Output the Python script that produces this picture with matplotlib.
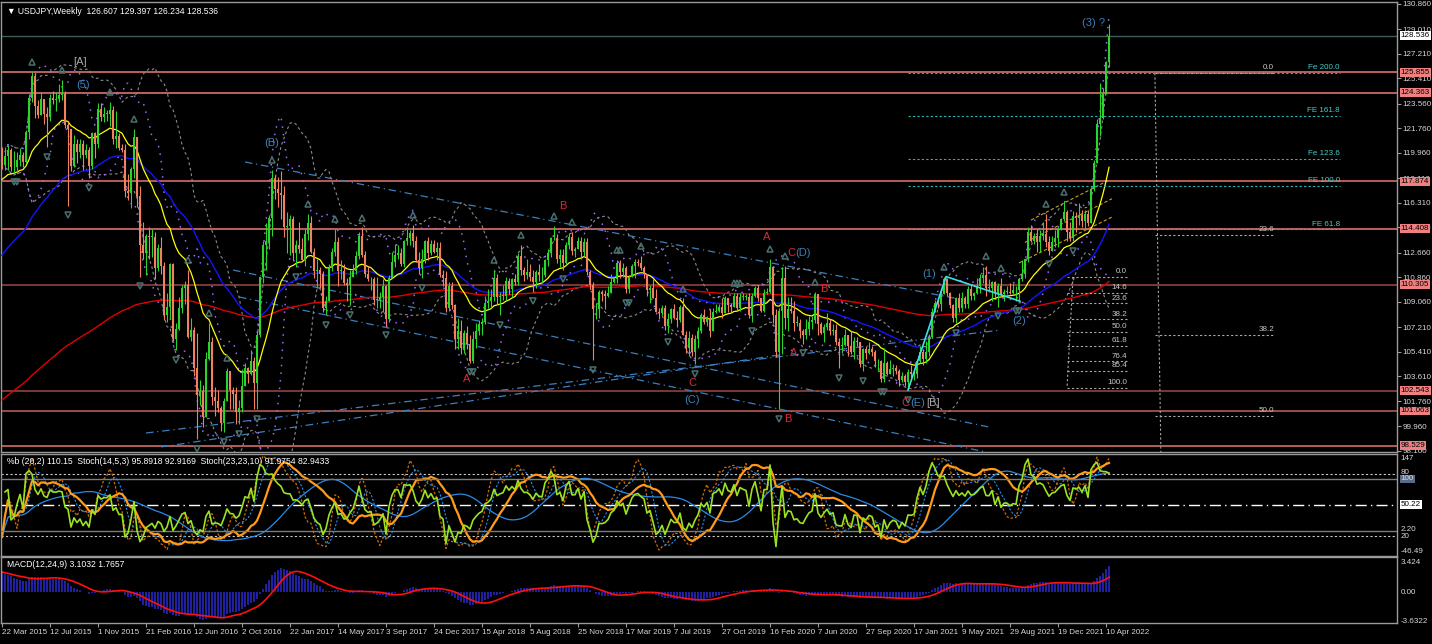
import numpy as np
import pandas as pd
import matplotlib
matplotlib.use("Agg")
import matplotlib.pyplot as plt
from matplotlib.transforms import offset_copy

plt.rcParams["font.family"] = ["Liberation Sans", "DejaVu Sans"]

# ---- weekly USDJPY candles, week of 22 Mar 2015 onwards ----
first_open = 120.1
last_open = 126.607

close_2015 = [119.1, 119.7, 120.2, 118.9, 118.9, 119.4, 119.8, 119.3, 121.5, 124.0,
              125.6, 123.4, 122.7, 123.9, 122.8, 122.6, 124.0, 123.8, 123.9, 124.2,
              124.3, 122.0, 121.7, 119.0, 120.6, 120.0, 120.6, 119.8, 120.2, 119.0,
              121.4, 120.6, 123.2, 122.6, 122.8, 122.8, 123.1, 121.0, 121.2, 120.3,
              120.2]
high_2015 = [120.4, 120.4, 120.5, 120.3, 120.1, 120.0, 120.3, 120.0, 121.6, 124.3,
             125.9, 125.8, 123.8, 124.4, 123.8, 123.3, 124.3, 124.5, 124.4, 125.0,
             125.3, 124.5, 122.2, 121.7, 121.3, 121.0, 121.0, 120.9, 120.6, 120.4,
             121.5, 121.5, 123.6, 123.6, 123.3, 123.1, 123.7, 123.4, 123.0, 121.4,
             120.6]
low_2015 = [118.8, 118.7, 118.7, 118.6, 118.5, 118.5, 119.0, 118.9, 119.2, 121.0,
            123.7, 122.5, 122.5, 122.7, 122.1, 120.4, 122.3, 123.5, 123.0, 123.7,
            123.8, 121.8, 116.1, 118.6, 118.9, 119.2, 119.6, 118.7, 119.6, 118.1,
            118.8, 119.6, 120.3, 122.3, 122.2, 122.3, 121.9, 120.6, 120.3, 120.2,
            120.0]

close_2016 = [117.2, 117.0, 118.8, 121.1, 116.8, 113.2, 112.6, 113.9, 113.8, 113.8,
              111.5, 113.0, 111.7, 108.1, 108.7, 111.8, 106.3, 107.1, 108.6, 110.1,
              110.3, 106.5, 107.0, 104.2, 102.2, 102.5, 100.6, 104.9, 106.1, 102.1,
              101.8, 101.3, 100.2, 101.8, 104.0, 102.6, 102.3, 101.0, 101.3, 102.9,
              104.2, 103.8, 104.7, 103.1, 106.6, 110.9, 113.2, 113.5, 115.2, 118.1,
              117.3, 117.0]
high_2016 = [120.6, 118.4, 118.9, 121.7, 121.0, 117.5, 114.9, 114.0, 114.5, 114.4,
             114.2, 113.3, 113.8, 112.0, 109.7, 111.9, 111.9, 107.5, 109.4, 110.3,
             110.6, 111.4, 107.9, 107.2, 106.8, 103.3, 103.0, 105.4, 107.5, 106.5,
             102.8, 102.6, 101.4, 102.0, 104.2, 104.0, 102.8, 102.8, 101.9, 104.1,
             104.6, 104.3, 105.5, 105.0, 106.9, 110.9, 113.5, 114.8, 115.4, 118.7,
             118.3, 118.2]
low_2016 = [116.7, 116.5, 115.9, 118.1, 116.0, 110.9, 112.2, 111.0, 112.2, 112.3,
            110.7, 111.3, 111.1, 107.7, 107.6, 107.8, 106.2, 105.5, 107.0, 108.2,
            108.9, 106.4, 106.2, 103.6, 99.0, 101.5, 99.9, 100.7, 104.8, 101.5,
            100.7, 101.0, 99.6, 99.5, 101.8, 101.2, 101.2, 100.1, 100.1, 101.0,
            103.2, 103.1, 103.7, 101.2, 101.2, 106.5, 110.4, 111.4, 112.9, 113.9,
            116.6, 116.0]

close_2017 = [116.9, 114.5, 114.6, 115.1, 112.6, 113.2, 112.9, 112.1, 114.0, 114.8,
              112.7, 111.3, 111.4, 111.1, 108.6, 109.1, 111.5, 112.7, 113.4, 111.3,
              111.3, 110.4, 110.3, 110.9, 111.3, 112.4, 113.9, 112.5, 111.1, 110.7,
              110.7, 109.2, 109.2, 109.4, 110.2, 107.8, 110.8, 112.0, 112.5, 112.6,
              111.8, 113.5, 113.7, 114.1, 113.5, 112.1, 111.5, 112.2, 113.5, 112.6,
              113.3, 112.7, 113.0]
high_2017 = [118.6, 117.5, 115.6, 115.4, 115.3, 113.6, 114.9, 113.7, 114.4, 115.5,
             115.3, 113.0, 112.2, 111.6, 111.3, 109.5, 111.8, 113.0, 114.4, 113.8,
             112.1, 111.8, 110.8, 111.4, 111.8, 112.8, 114.2, 114.5, 112.8, 111.7,
             110.9, 110.9, 110.9, 109.8, 110.7, 110.3, 111.0, 112.7, 113.3, 113.2,
             113.0, 113.6, 114.5, 114.3, 114.7, 113.9, 112.7, 112.9, 113.6, 113.8,
             113.6, 113.6, 113.4]
low_2017 = [115.1, 113.8, 112.6, 112.5, 112.1, 111.6, 112.6, 112.1, 111.7, 113.6,
            112.6, 110.8, 110.1, 110.1, 108.3, 108.1, 109.2, 111.3, 112.4, 110.2,
            110.7, 110.3, 109.1, 108.8, 110.9, 111.1, 112.2, 112.3, 110.9, 110.6,
            109.9, 108.8, 108.6, 108.6, 108.3, 107.3, 107.6, 110.8, 111.6, 112.2,
            111.7, 111.6, 113.2, 113.2, 113.1, 112.0, 111.1, 110.8, 111.9, 112.1,
            112.5, 112.6, 112.1]

close_2018 = [111.0, 110.8, 108.6, 110.2, 108.8, 106.3, 106.9, 105.7, 106.8, 106.0,
              104.7, 106.3, 106.9, 107.4, 107.6, 109.0, 109.1, 109.4, 110.8, 109.4,
              109.5, 109.5, 110.6, 110.0, 110.7, 110.5, 112.4, 111.4, 111.0, 111.2,
              110.9, 110.5, 111.2, 111.0, 111.0, 112.1, 112.6, 113.7, 113.7, 112.2,
              112.5, 111.9, 113.2, 113.8, 112.8, 112.9, 113.5, 112.7, 113.4, 111.2,
              110.3, 108.5]
high_2018 = [113.4, 111.4, 111.3, 110.5, 110.5, 108.9, 107.9, 107.7, 107.0, 107.3,
             106.6, 106.9, 107.5, 107.7, 107.9, 109.5, 110.0, 110.0, 111.4, 111.1,
             109.8, 110.3, 110.9, 110.8, 110.8, 111.1, 112.6, 113.2, 111.6, 112.2,
             111.8, 111.4, 111.4, 111.8, 111.6, 112.2, 112.9, 113.8, 114.6, 114.0,
             112.9, 112.9, 113.4, 114.1, 114.2, 113.1, 113.8, 113.8, 113.7, 113.7,
             111.4, 110.5]
low_2018 = [110.9, 110.2, 108.3, 108.4, 108.5, 105.6, 105.6, 105.2, 105.3, 105.6,
            104.6, 104.6, 105.7, 106.6, 106.6, 107.4, 108.6, 108.6, 109.1, 108.9,
            108.1, 109.2, 109.2, 109.6, 109.4, 110.3, 110.3, 111.0, 110.6, 110.7,
            110.6, 109.8, 110.1, 110.6, 110.4, 110.9, 111.7, 112.3, 113.6, 111.9,
            111.6, 111.4, 111.8, 112.9, 112.5, 112.3, 112.9, 112.2, 112.4, 111.0,
            110.0, 104.8]

close_2019 = [108.5, 109.8, 109.6, 109.5, 109.7, 110.5, 110.7, 111.9, 111.2, 111.5,
              110.0, 110.9, 111.7, 112.0, 111.9, 111.5, 111.1, 109.9, 110.1, 109.3,
              108.3, 108.2, 108.6, 107.3, 107.8, 108.5, 107.9, 107.7, 108.7, 106.6,
              105.7, 106.4, 105.4, 106.3, 106.9, 108.1, 107.6, 107.9, 106.9, 108.3,
              108.4, 108.7, 108.2, 109.3, 108.8, 108.7, 109.5, 108.6, 109.4, 109.4,
              109.4, 108.1]
high_2019 = [109.0, 109.9, 109.9, 109.9, 110.2, 111.1, 110.9, 112.1, 112.1, 111.9,
             111.7, 111.0, 111.8, 112.2, 112.2, 112.4, 111.7, 111.1, 110.3, 110.7,
             110.0, 108.6, 108.8, 108.8, 108.2, 108.6, 108.9, 108.4, 108.8, 109.3,
             106.9, 106.9, 106.7, 106.6, 107.2, 108.2, 108.5, 108.0, 108.5, 108.6,
             108.9, 108.9, 109.3, 109.5, 109.3, 109.0, 109.7, 109.7, 109.7, 109.7,
             109.6, 109.7]
low_2019 = [107.8, 107.9, 109.1, 108.5, 109.4, 109.8, 110.4, 110.4, 110.8, 110.9,
            109.7, 109.7, 111.0, 110.8, 111.7, 111.4, 110.8, 109.5, 109.0, 109.3,
            108.3, 107.8, 108.1, 107.0, 106.8, 107.5, 107.8, 107.2, 107.6, 106.6,
            105.3, 105.1, 105.1, 104.5, 105.7, 106.8, 107.4, 107.3, 106.5, 106.9,
            108.2, 108.3, 107.9, 108.2, 108.3, 108.3, 108.7, 108.4, 108.4, 109.2,
            109.2, 107.9]

close_2020 = [109.5, 110.1, 109.3, 108.4, 109.7, 109.8, 111.6, 108.1, 105.4, 108.4,
              110.8, 107.9, 108.5, 108.4, 107.5, 107.5, 106.9, 106.6, 107.1, 107.6,
              107.7, 109.6, 107.4, 106.8, 107.2, 107.5, 106.9, 107.0, 106.1, 105.8,
              105.9, 106.6, 105.8, 105.4, 106.2, 106.1, 104.5, 105.6, 105.3, 105.6,
              105.4, 104.7, 104.7, 103.4, 104.6, 103.8, 104.1, 104.2, 104.0, 103.3,
              103.6, 103.2]
high_2020 = [109.7, 110.2, 110.3, 109.3, 110.0, 110.1, 112.2, 111.7, 108.5, 108.6,
             111.6, 111.7, 109.4, 109.4, 109.1, 108.0, 107.8, 107.1, 107.8, 108.0,
             108.0, 109.8, 109.6, 107.6, 107.4, 108.2, 107.8, 107.4, 107.4, 106.4,
             106.5, 107.1, 106.6, 106.9, 106.5, 106.5, 106.0, 105.7, 105.8, 106.1,
             105.8, 105.5, 104.9, 104.8, 105.7, 104.7, 104.8, 104.5, 104.4, 104.1,
             103.9, 103.8]
low_2020 = [107.6, 109.4, 109.1, 108.3, 108.3, 109.6, 109.7, 107.5, 105.0, 101.2,
            105.2, 107.1, 106.9, 108.2, 106.9, 107.3, 106.4, 106.0, 106.3, 106.6,
            107.1, 107.5, 106.6, 106.7, 106.1, 107.0, 106.6, 106.6, 105.9, 104.2,
            105.3, 105.8, 105.1, 105.2, 104.9, 105.8, 104.3, 104.0, 104.9, 105.2,
            105.1, 104.3, 104.0, 103.2, 103.2, 103.7, 103.8, 103.6, 103.8, 102.9,
            103.2, 102.9]

close_2021 = [103.9, 103.8, 103.8, 104.7, 105.4, 104.9, 105.4, 106.5, 108.3, 109.0,
              108.9, 109.6, 110.7, 109.7, 108.8, 107.9, 109.3, 108.6, 109.3, 108.9,
              110.0, 109.5, 109.7, 110.2, 110.8, 111.0, 110.1, 110.1, 110.5, 109.7,
              110.2, 109.6, 109.8, 109.8, 109.7, 109.9, 109.9, 110.7, 111.1, 112.2,
              114.2, 113.5, 113.9, 113.4, 113.9, 114.0, 113.4, 112.8, 113.4, 113.7,
              114.4, 115.1]
high_2021 = [104.1, 104.4, 104.1, 104.9, 105.8, 105.6, 106.2, 106.7, 108.6, 109.2,
             109.4, 109.9, 110.9, 110.6, 109.8, 108.9, 109.4, 109.7, 109.8, 109.5,
             110.2, 110.3, 109.8, 110.8, 111.1, 111.6, 111.7, 110.7, 110.6, 110.6,
             110.4, 110.8, 110.0, 110.2, 110.4, 110.4, 110.2, 110.8, 112.1, 112.2,
             114.5, 114.7, 114.1, 114.4, 114.3, 114.9, 115.5, 113.9, 113.9, 114.3,
             114.5, 115.2]
low_2021 = [102.6, 103.5, 103.3, 103.5, 104.6, 104.4, 104.6, 105.1, 106.4, 108.3,
            108.6, 108.4, 109.6, 109.5, 108.6, 107.6, 107.5, 108.3, 108.3, 108.6,
            108.6, 109.2, 109.2, 109.6, 109.7, 110.4, 109.5, 109.8, 109.1, 109.4,
            108.7, 109.5, 109.1, 109.6, 109.6, 109.6, 109.1, 109.1, 110.6, 110.8,
            112.0, 113.4, 113.3, 112.7, 112.7, 113.6, 113.1, 112.5, 112.9, 113.1,
            113.1, 114.3]

close_2022 = [115.6, 114.2, 113.7, 115.3, 115.2, 115.4, 115.0, 115.5, 114.8, 117.3,
              119.2, 122.1, 122.5, 124.3, 126.6, 128.536]
high_2022 = [116.4, 115.8, 114.9, 115.7, 115.6, 116.3, 115.8, 115.8, 115.8, 117.4,
             119.4, 122.4, 125.1, 124.7, 126.7, 129.397]
low_2022 = [115.0, 113.5, 113.5, 113.5, 114.2, 114.7, 114.5, 114.4, 114.6, 114.8,
            117.2, 119.2, 121.2, 122.4, 124.3, 126.234]

# starting values of the averages as they appear at the left edge
yellow_seed, blue_seed, red_seed = 117.9, 112.2, 101.7
macd_fast_seed, macd_slow_seed = 119.6, 117.0

# horizontal support / resistance levels
levels = [125.855, 124.363, 117.874, 114.408, 110.305, 102.543, 101.063, 98.529]
level_colors = ["#f07b74", "#f07b74", "#e8756e", "#f07b74", "#9c4a45", "#9c4a45", "#c0625c", "#e8756e"]
current_price = 128.536

price_ticks = [130.860, 129.010, 127.210, 125.410, 123.560, 121.760, 119.960, 118.110, 116.310,
               114.510, 112.660, 110.860, 109.060, 107.210, 105.410, 103.610, 101.760, 99.960, 98.160]

# Fibonacci tools (labels and prices)
fib1_labels = ["0.0", "14.6", "23.6", "38.2", "50.0", "61.8", "76.4", "85.4", "100.0"]
fib1_prices = [110.87, 109.70, 108.94, 107.77, 106.84, 105.84, 104.70, 103.98, 102.75]
fib2_labels = ["0.0", "23.6", "38.2", "50.0"]
fib2_prices = [125.80, 113.95, 106.65, 100.70]
fe_labels = ["Fe 200.0", "FE 161.8", "Fe 123.6", "FE 100.0", "FE 61.8"]
fe_prices = [125.80, 122.65, 119.50, 117.55, 114.35]

# analyst trend lines: (week, price) -> (week, price)
trend_lines = [(81, 119.29, 319, 109.26), (77, 111.38, 329, 99.89), (79, 109.41, 328, 98.06),
               (48, 99.45, 333, 106.99), (53, 98.43, 259, 105.16)]
channel_lines = [(343, 115.04, 369, 117.97), (339, 111.90, 370, 115.26), (341, 113.4, 370, 116.6)]
wave_line_w = [302, 314.7, 339.3]
wave_line_p = [102.6, 110.9, 109.1]

# wave labels: text, week, price, colour
wave_labels = [("[A]", 26, 126.6, "#a8a8a8"), ("(5)", 27, 124.9, "#3f7fb8"), ("(B)", 90, 120.7, "#3f7fb8"),
               ("B", 187, 116.1, "#e0283c"), ("A", 155, 103.4, "#e0283c"), ("C", 230, 103.1, "#e0283c"),
               ("(C)", 230, 101.9, "#3f7fb8"), ("A", 255, 113.8, "#e0283c"), ("C", 263, 112.6, "#e0283c"),
               ("(D)", 267, 112.6, "#3f7fb8"), ("B", 274, 110.0, "#e0283c"), ("A", 264, 105.3, "#e0283c"),
               ("B", 262, 100.5, "#e0283c"), ("C", 301, 101.65, "#e0283c"), ("(E)", 305.3, 101.65, "#3f7fb8"),
               ("[B]", 310.5, 101.65, "#a8a8a8"), ("(1)", 309, 111.1, "#3f7fb8"), ("(2)", 339, 107.65, "#3f7fb8"),
               ("(3) ?", 364, 129.45, "#3f7fb8")]

# ---- assemble candles ----
closes = np.array(close_2015 + close_2016 + close_2017 + close_2018 + close_2019 + close_2020 + close_2021 + close_2022)
highs = np.array(high_2015 + high_2016 + high_2017 + high_2018 + high_2019 + high_2020 + high_2021 + high_2022)
lows = np.array(low_2015 + low_2016 + low_2017 + low_2018 + low_2019 + low_2020 + low_2021 + low_2022)
opens = np.concatenate([[first_open], closes[:-1]])
opens[-1] = last_open
highs = np.maximum(highs, np.maximum(opens, closes))
lows = np.minimum(lows, np.minimum(opens, closes))
n = len(closes)
idx = np.arange(n)
dates = pd.date_range("2015-03-22", periods=n, freq="7D")


def ema(values, period, seed):
    a = 2.0 / (period + 1)
    out, prev = [], seed
    for v in values:
        prev = prev + a * (v - prev)
        out.append(prev)
    return np.array(out)


def bands(values, period, dev):
    s = pd.Series(values)
    mid = s.rolling(period, min_periods=2).mean()
    sd = s.rolling(period, min_periods=2).std(ddof=0)
    return (mid + dev * sd).values, (mid - dev * sd).values


def stoch(h, l, c, k, d, slow):
    hh = pd.Series(h).rolling(k, min_periods=1).max()
    ll = pd.Series(l).rolling(k, min_periods=1).min()
    num = (pd.Series(c) - ll).rolling(slow, min_periods=1).sum()
    den = (hh - ll).rolling(slow, min_periods=1).sum()
    main = 100 * num / den
    return main.values, main.rolling(d, min_periods=1).mean().values


ma_yellow = ema(closes, 20, yellow_seed)
ma_blue = ema(closes, 50, blue_seed)
ma_red = ema(closes, 200, red_seed)
bb_up, bb_lo = bands(closes, 20, 2)
bb10_up, bb10_lo = bands(closes, 10, 2)
pct_b = (closes - bb_lo) / (bb_up - bb_lo) * 100
st14_m, st14_s = stoch(highs, lows, closes, 14, 5, 3)
st23_m, st23_s = stoch(highs, lows, closes, 23, 23, 10)
macd = ema(closes, 12, macd_fast_seed) - ema(closes, 24, macd_slow_seed)
macd_sig = pd.Series(macd).rolling(9, min_periods=1).mean().values

# ---- figure layout (pixel boxes) ----
W, H = 1432, 644
BG = "black"
FRAME = "#9a9a9a"
TXT = "#d8d8d8"
FS = 5.8


def box(x0, y0, x1, y1):
    return [x0 / W, 1 - y1 / H, (x1 - x0) / W, (y1 - y0) / H]


fig = plt.figure(figsize=(W / 100, H / 100), dpi=100, facecolor=BG)
ax = fig.add_axes(box(1, 2, 1397, 452))
ax2 = fig.add_axes(box(1, 454, 1397, 556), sharex=ax)
ax3 = fig.add_axes(box(1, 557, 1397, 623), sharex=ax)
for a in (ax, ax2, ax3):
    a.set_facecolor(BG)
    for sp in a.spines.values():
        sp.set_color(FRAME)
        sp.set_linewidth(1)
    a.tick_params(axis="x", bottom=False, labelbottom=False)

ax.set_xlim(-0.33, 465.0)
ax.set_ylim(98.06, 131.0)


def right_box(axis, y, text, fc, tc="black"):
    axis.text(1.0025, y, text, transform=axis.get_yaxis_transform(), ha="left", va="center",
              fontsize=FS, color=tc, zorder=20, clip_on=False,
              bbox=dict(boxstyle="square,pad=0.12", fc=fc, ec="none"))


# horizontal levels
ax.axhline(current_price, color="#3d5c5a", lw=1, zorder=1)
for lv, lc in zip(levels, level_colors):
    ax.axhline(lv, color=lc, lw=1.1, zorder=1)

# trend lines
for w0, p0, w1, p1 in trend_lines:
    ax.plot([w0, w1], [p0, p1], color="#3b7fbf", lw=0.9, ls=(0, (6, 3, 1, 3)), zorder=2)
for w0, p0, w1, p1 in channel_lines:
    ax.plot([w0, w1], [p0, p1], color="#c9a21a", lw=0.8, ls=(0, (3, 2)), zorder=2)

# bands and averages
ax.plot(idx, bb_up, color="#8a8a8a", lw=0.8, ls=(0, (2.5, 2.5)), zorder=2)
ax.plot(idx, bb_lo, color="#8a8a8a", lw=0.8, ls=(0, (2.5, 2.5)), zorder=2)
ax.plot(idx, bb10_up, color="#9a6cff", lw=1.1, ls=(0, (1, 4)), zorder=2)
ax.plot(idx, bb10_lo, color="#9a6cff", lw=1.1, ls=(0, (1, 4)), zorder=2)
ax.plot(idx, ma_red, color="#e00000", lw=1.0, zorder=3)
ax.plot(idx, ma_blue, color="#1414ff", lw=1.0, zorder=3)
ax.plot(idx, ma_yellow, color="#ffff00", lw=0.9, zorder=3)

# candles
up = closes >= opens
col = np.where(up, "#2ad62a", "#f2825f")
ax.vlines(idx, lows, highs, colors=col, lw=0.8, zorder=4)
ax.bar(idx, np.maximum(np.abs(closes - opens), 0.05), bottom=np.minimum(opens, closes),
       width=0.66, color=col, lw=0, zorder=4)

# wave lines (1)-(2)
ax.plot(wave_line_w, wave_line_p, color="#40e0e8", lw=1.2, zorder=5)

# fractals
k = 4
up_fr = [i for i in range(k, n - k) if highs[i] == highs[i - k:i + k + 1].max()]
dn_fr = [i for i in range(k, n - k) if lows[i] == lows[i - k:i + k + 1].min()]
ax.plot(idx[up_fr], highs[up_fr], ls="none", marker="^", ms=5, mfc="none", mec="#4a6e6e", mew=1.1,
        transform=offset_copy(ax.transData, fig=fig, y=7, units="points"), zorder=5)
ax.plot(idx[dn_fr], lows[dn_fr], ls="none", marker="v", ms=5, mfc="none", mec="#4a6e6e", mew=1.1,
        transform=offset_copy(ax.transData, fig=fig, y=-7, units="points"), zorder=5)

# fibonacci retracement (2021 swing)
ax.hlines(fib1_prices, 355, 375, colors="#a8a8a8", lw=0.8, linestyles=(0, (2, 2)), zorder=3)
for lab, p in zip(fib1_labels, fib1_prices):
    ax.text(375, p + 0.12, lab, color="#c8c8c8", fontsize=FS, ha="right", va="bottom", zorder=6)
ax.plot([357, 355], [fib1_prices[0], fib1_prices[-1]], color="#a8a8a8", lw=0.8, ls=(0, (2, 2)), zorder=3)

# long term retracement
ax.hlines(fib2_prices, 384.3, 424.3, colors="#a8a8a8", lw=0.8, linestyles=(0, (2, 2)), zorder=3)
for lab, p in zip(fib2_labels, fib2_prices):
    ax.text(424, p + 0.12, lab, color="#c8c8c8", fontsize=FS, ha="right", va="bottom", zorder=6)
ax.plot([384.3, 386.3], [fib2_prices[0], 98.06], color="#a8a8a8", lw=0.8, ls=(0, (2, 2)), zorder=3)

# fibonacci expansion
ax.hlines(fe_prices, 302, 446, colors="#2fb4b4", lw=0.8, linestyles=(0, (2, 2)), zorder=3)
for lab, p in zip(fe_labels, fe_prices):
    ax.text(446, p + 0.12, lab, color="#48cccc", fontsize=FS, ha="right", va="bottom", zorder=6)

# wave labels
for t, w, p, c in wave_labels:
    ax.text(w, p, t, color=c, fontsize=8, ha="center", va="center", zorder=7)

ax.text(0.004, 0.988, "\u25bc USDJPY,Weekly  126.607 129.397 126.234 128.536", transform=ax.transAxes,
        color="white", fontsize=6.2, ha="left", va="top")

# right price axis
ax.yaxis.tick_right()
ax.set_yticks(price_ticks)
ax.set_yticklabels([f"{v:.3f}" for v in price_ticks])
ax.tick_params(axis="y", colors=FRAME, labelcolor=TXT, labelsize=FS, length=3, pad=1.2, width=0.8)
for lv in levels:
    right_box(ax, lv, f"{lv:.3f}", "#f08080")
right_box(ax, current_price, f"{current_price:.3f}", "white")

# ---- %b / stochastic panel ----
ax2.set_ylim(0, 100)
ax2b = ax2.twinx()
ax2b.set_ylim(-46.49, 147)
for a in (ax2, ax2b):
    a.set_yticks([])
    a.tick_params(axis="x", bottom=False, labelbottom=False)
ax2b.axis("off")
ax2b.axhline(100, color="#7c7c7c", lw=1)
ax2b.axhline(0, color="#7c7c7c", lw=1)
ax2.axhline(80, color="#c8c8c8", lw=0.8, ls=(0, (2, 2)))
ax2.axhline(20, color="#c8c8c8", lw=0.8, ls=(0, (2, 2)))
ax2.axhline(50, color="white", lw=1, ls=(0, (8, 3, 1, 3)))
ax2.plot(idx, st14_m, color="#d06a00", lw=0.9, ls=(0, (2, 1.5)))
ax2.plot(idx, st14_s, color="#2a8ae8", lw=0.8, ls=(0, (2, 1.5)))
ax2.plot(idx, st23_s, color="#2a8ae8", lw=0.9)
ax2b.plot(idx, pct_b, color="#9be220", lw=1.2)
ax2.plot(idx, st23_m, color="#ff9a1a", lw=1.6)
ax2.text(0.004, 0.97, "%b (20,2) 110.15  Stoch(14,5,3) 95.8918 92.9169  Stoch(23,23,10) 91.9754 82.9433",
         transform=ax2.transAxes, color="white", fontsize=6.2, ha="left", va="top")
for y, t in [(95.5, "147"), (81.5, "80"), (4.5, "-46.49"), (25.5, "2.20"), (19.0, "20")]:
    ax2.text(1.0025, y, t, transform=ax2.get_yaxis_transform(), color=TXT, fontsize=FS, ha="left",
             va="center", clip_on=False)
right_box(ax2, 75.5, "100", "#5a6a8a", TXT)
right_box(ax2, 50.2, "50.22", "white")

# ---- MACD panel ----
ax3.set_ylim(-3.6322, 4.12)
ax3.bar(idx, macd, width=0.35, color="#2020a0", lw=0)
ax3.plot(idx, macd_sig, color="#ff1010", lw=1.2)
ax3.set_yticks([])
ax3.text(0.004, 0.96, "MACD(12,24,9) 3.1032 1.7657", transform=ax3.transAxes, color="white",
         fontsize=6.2, ha="left", va="top")
for y, t in [(3.424, "3.424"), (0.0, "0.00"), (-3.45, "-3.6322")]:
    ax3.text(1.0025, y, t, transform=ax3.get_yaxis_transform(), color=TXT, fontsize=FS, ha="left",
             va="center", clip_on=False)

# date axis
tick_pos = idx[::16]
ax3.set_xticks(tick_pos)
ax3.set_xticklabels([f"{d.day} {d.strftime('%b %Y')}" for d in dates[::16]])
ax3.tick_params(axis="x", bottom=True, labelbottom=True, colors=FRAME, labelcolor=TXT,
                labelsize=FS, length=3, pad=1.5, width=0.8)
for lab in ax3.get_xticklabels():
    lab.set_ha("left")

fig.savefig("out.png", dpi=100, facecolor=BG)
